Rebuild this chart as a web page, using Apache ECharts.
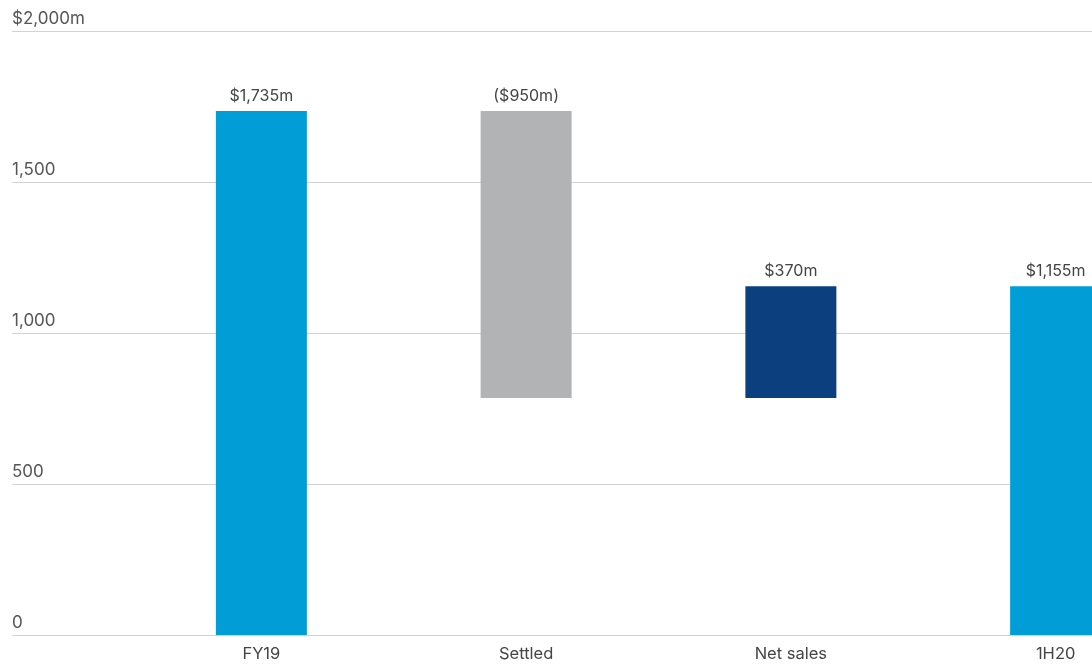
<!DOCTYPE html>
<html>
<head>
<meta charset="utf-8">
<script src="https://cdn.jsdelivr.net/npm/echarts@6/dist/echarts.min.js"></script>
<style>
  html, body { margin: 0; padding: 0; background: #fff; }
  #chart { width: 1092px; height: 664px; }
</style>
</head>
<body>
<div id="chart"></div>
<script>
// Bridge categories and their movements ($m)
const categories = ['FY19', 'Settled', 'Net sales', '1H20'];
const changes = [1735, -950, 370, 1155];
const isTotal = [true, false, false, true];
const barColors = ['#009DD6', '#B1B3B4', '#0C3F7E', '#009DD6'];
const yTicks = [0, 500, 1000, 1500, 2000];

// Build invisible bases and visible heights for the waterfall
const bases = [];
const heights = [];
let running = 0;
changes.forEach((c, i) => {
  if (isTotal[i]) {
    bases.push(0);
    heights.push(c);
    running = c;
  } else {
    const next = running + c;
    bases.push(Math.min(running, next));
    heights.push(Math.abs(c));
    running = next;
  }
});

function money(v) {
  const s = '$' + Math.abs(v).toLocaleString('en-US') + 'm';
  return v < 0 ? '(' + s + ')' : s;
}

const FONT = 'Inter, "Noto Sans", sans-serif';
const yMin = yTicks[0], yMax = yTicks[yTicks.length - 1];

const chart = echarts.init(document.getElementById('chart'), null, { renderer: 'canvas' });
chart.setOption({
  animation: false,
  grid: [
    { left: 12, right: 0, top: 31, bottom: 29, containLabel: false, outerBoundsMode: 'none' },
    // bar grid runs past the right edge so the last bar is cut off
    { left: 129, right: -96, top: 31, bottom: 29, containLabel: false, outerBoundsMode: 'none' }
  ],
  xAxis: [
    { type: 'value', gridIndex: 0, show: false, min: 0, max: 1 },
    {
      type: 'category', gridIndex: 1, data: categories,
      axisLine: { show: false }, axisTick: { show: false },
      axisLabel: { color: '#444', fontFamily: FONT, fontSize: 16.5, margin: 11 }
    }
  ],
  yAxis: [
    {
      type: 'value', gridIndex: 0, min: yMin, max: yMax, interval: 500,
      axisLine: { show: false }, axisTick: { show: false },
      splitLine: { lineStyle: { color: '#d2d2d2', width: 1 } },
      axisLabel: {
        inside: true, margin: 0, color: '#555', fontFamily: FONT, fontSize: 17,
        verticalAlign: 'bottom', padding: [0, 0, 4, 0],
        formatter: v => v === yMax ? '$' + v.toLocaleString('en-US') + 'm' : v.toLocaleString('en-US')
      }
    },
    { type: 'value', gridIndex: 1, min: yMin, max: yMax, show: false, splitLine: { show: false } }
  ],
  series: [
    {
      type: 'bar', xAxisIndex: 1, yAxisIndex: 1, stack: 'w',
      data: bases, barWidth: 91, silent: true,
      itemStyle: { color: 'transparent' }
    },
    {
      type: 'bar', xAxisIndex: 1, yAxisIndex: 1, stack: 'w',
      barWidth: 91,
      data: heights.map((h, i) => ({ value: h, itemStyle: { color: barColors[i] } })),
      label: {
        show: true, position: 'top', distance: 7,
        color: '#444', fontFamily: FONT, fontSize: 16,
        formatter: p => money(changes[p.dataIndex])
      }
    }
  ]
});
</script>
</body>
</html>
